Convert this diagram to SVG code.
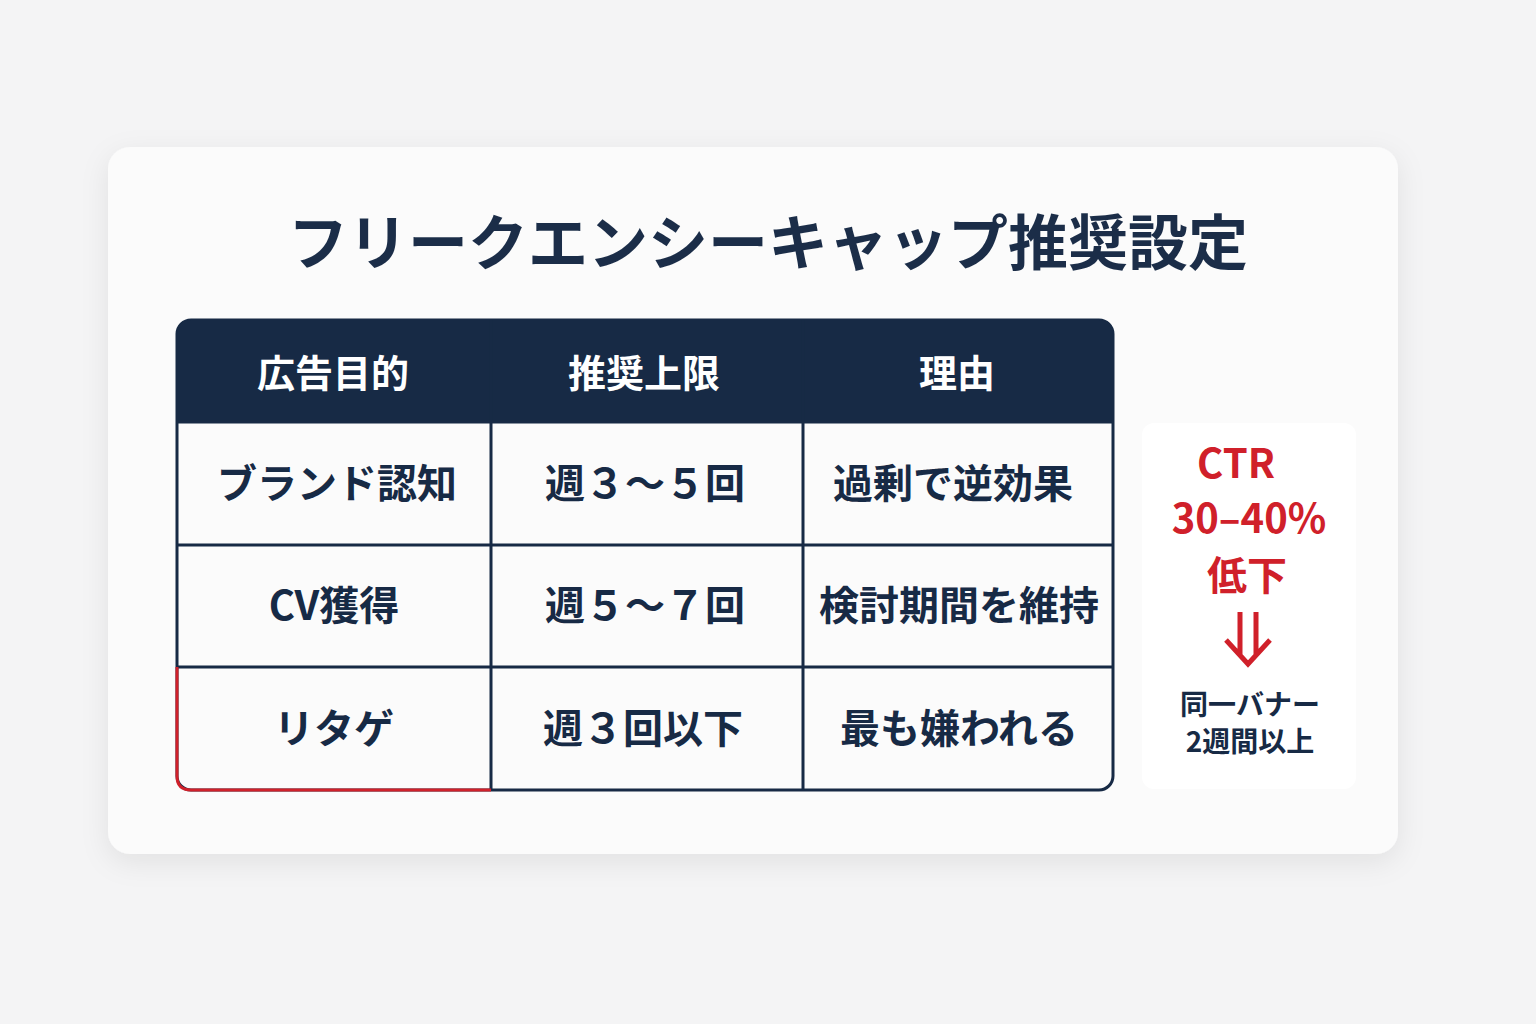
<svg xmlns="http://www.w3.org/2000/svg" width="1536" height="1024" viewBox="0 0 1536 1024">
<defs>
<filter id="sh" x="-10%" y="-10%" width="120%" height="130%"><feDropShadow dx="0" dy="8" stdDeviation="14" flood-color="#000" flood-opacity="0.08"/></filter>
<style>
text{font-family:"Noto Sans CJK JP","Noto Sans",sans-serif;font-weight:700;text-anchor:middle}
.h{fill:#fff;font-size:38px}
.c{fill:#172a45;font-size:40px}
.r{fill:#d0202a;font-size:40px}
.s{fill:#172a45;font-size:28px}
.g{stroke:#172a45;stroke-width:3;fill:none}
</style>
</defs>
<rect width="1536" height="1024" fill="#f4f4f5"/>
<rect x="108" y="147" width="1290" height="707" rx="22" fill="#fbfbfb" filter="url(#sh)"/>
<text x="768" y="265" style="font-size:60px;fill:#1b2d48">フリークエンシーキャップ推奨設定</text>
<g id="table">
<rect x="177" y="320" width="936" height="470" rx="14" fill="#fbfbfb" class="g"/>
<path d="M191 320 H1099 Q1113 320 1113 334 V422 H177 V334 Q177 320 191 320 Z" fill="#172a45"/>
<path class="g" d="M177 422H1113M177 545H1113M177 667H1113M491 320V790M803 320V790"/>
<path d="M177 667 V776 Q177 790 191 790 H491" fill="none" stroke="#d0202a" stroke-width="3"/>
<text class="h" x="333" y="387">広告目的</text>
<text class="h" x="644" y="387">推奨上限</text>
<text class="h" x="957" y="387">理由</text>
<text class="c" x="337" y="498">ブランド認知</text>
<text class="c" x="645" y="498">週３～５回</text>
<text class="c" x="953" y="498">過剰で逆効果</text>
<text class="c" x="334" y="620">CV獲得</text>
<text class="c" x="645" y="620">週５～７回</text>
<text class="c" x="959" y="620">検討期間を維持</text>
<text class="c" x="334" y="743">リタゲ</text>
<text class="c" x="643" y="743">週３回以下</text>
<text class="c" x="959" y="743">最も嫌われる</text>
</g>
<g id="note">
<rect x="1142" y="423" width="214" height="366" rx="12" fill="#fff"/>
<text class="r" x="1236" y="478">CTR</text>
<text class="r" x="1249" y="533">30–40%</text>
<text class="r" x="1247" y="590">低下</text>
<path d="M1240 612V655M1256 612V655M1226 640L1248 664L1270 640" fill="none" stroke="#d0202a" stroke-width="5"/>
<text class="s" x="1250" y="715">同一バナー</text>
<text class="s" x="1250" y="752">2週間以上</text>
</g>
</svg>
